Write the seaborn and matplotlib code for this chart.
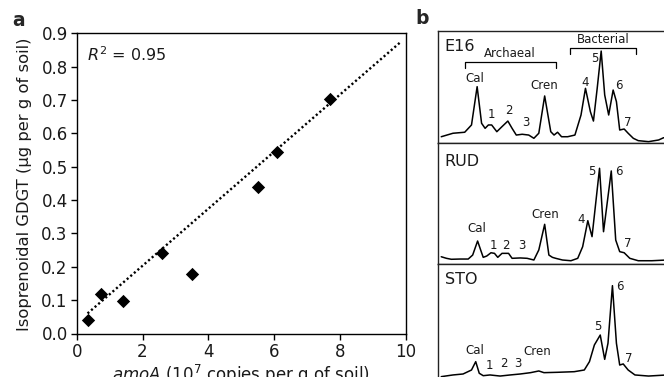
import numpy as np
import pandas as pd
import matplotlib
matplotlib.use("Agg")
import matplotlib.pyplot as plt
import seaborn as sns

sns.set_style("ticks")
plt.rcParams["font.family"] = ["DejaVu Sans"]
plt.rcParams["mathtext.fontset"] = "dejavusans"

# ---------------- Panel a data ----------------
amoa = [0.33, 0.74, 1.42, 2.60, 3.50, 5.50, 6.10, 7.70]
gdgt = [0.040, 0.118, 0.097, 0.240, 0.178, 0.440, 0.545, 0.703]
fit_slope = 0.0855
fit_intercept = 0.032
fit_range = [0.33, 9.82]
r2_text = "0.95"
xticks_a = [0, 2, 4, 6, 8, 10]
yticks_a = [0.0, 0.1, 0.2, 0.3, 0.4, 0.5, 0.6, 0.7, 0.8, 0.9]

# ---------------- Panel b data (retention time, relative intensity) ----------------
e16_rt = [1.6, 6.6, 11.6, 14.5, 16.9, 18.8, 20.3, 21.7, 23.1, 25.3, 27.5, 30.0, 31.8, 33.6,
          36.1, 38.9, 41.1, 43.2, 45.7, 48.3, 49.7, 51.2, 52.9, 55.5, 58.6, 61.2, 63.1, 65.2,
          66.5, 68.1, 69.8, 71.3, 73.0, 74.9, 76.3, 77.7, 79.6, 81.3, 83.5, 85.6, 90.0, 94.3,
          96.4, 97.8]
e16_int = [5.6, 8.7, 9.6, 16.1, 50.3, 17.6, 13.1, 16.1, 16.1, 10.1, 14.6, 19.6, 13.1, 7.1,
           7.8, 7.1, 4.2, 8.7, 42.0, 10.1, 7.1, 9.6, 5.6, 5.6, 7.1, 25.0, 48.8, 27.9,
           19.6, 48.8, 82.1, 42.9, 25.0, 47.3, 36.9, 11.6, 12.5, 8.7, 4.2, 2.1, 1.2, 2.7,
           4.7, 4.5]
rud_rt = [1.6, 3.8, 5.9, 9.5, 13.1, 15.0, 17.1, 18.4, 19.5, 21.0, 22.8, 24.3, 25.7, 27.5,
          30.3, 31.8, 35.3, 38.2, 41.1, 43.2, 45.7, 47.5, 49.0, 50.4, 53.3, 56.9, 59.8, 61.9,
          64.1, 65.9, 69.1, 70.8, 74.1, 76.0, 77.7, 79.6, 82.0, 85.6, 91.4, 97.8]
rud_int = [6.0, 4.7, 3.9, 4.1, 4.1, 7.4, 19.0, 11.6, 5.5, 6.6, 9.3, 8.8, 5.5, 8.8,
           8.8, 4.7, 5.0, 4.7, 3.3, 11.6, 32.8, 7.4, 5.5, 4.7, 3.3, 2.7, 4.7, 14.3,
           35.8, 22.6, 79.1, 26.7, 76.9, 19.8, 10.2, 9.3, 4.7, 2.7, 2.7, 3.3]
sto_rt = [1.6, 6.6, 10.9, 14.5, 16.3, 17.8, 19.5, 22.4, 26.7, 31.0, 35.3, 39.7, 43.2, 45.4,
          51.2, 58.3, 62.6, 64.8, 66.9, 69.4, 71.3, 72.7, 74.6, 76.3, 77.7, 79.2, 81.3, 84.2,
          90.0, 97.8]
sto_int = [6.9, 8.3, 9.1, 12.4, 19.3, 9.7, 7.7, 8.3, 7.4, 8.3, 9.1, 10.2, 11.6, 10.2,
           10.5, 11.0, 12.4, 19.3, 33.1, 41.3, 21.2, 34.5, 82.1, 34.5, 16.5, 17.4, 12.4, 8.3,
           7.4, 8.3]

sample_names = ["E16", "RUD", "STO"]
peak_names = ["Cal", "1", "2", "3", "Cren", "4", "5", "6", "7"]
e16_lab_rt = [15.9, 22.8, 30.3, 37.8, 45.4, 63.1, 66.9, 77.3, 81.0]
e16_lab_y = [57.8, 25.0, 28.6, 18.5, 50.9, 53.8, 75.0, 50.9, 18.5]
rud_lab_rt = [16.7, 23.8, 29.3, 35.8, 46.1, 61.2, 65.9, 77.3, 81.0]
rud_lab_y = [29.5, 14.9, 15.7, 14.9, 40.5, 36.9, 76.3, 76.3, 17.1]
sto_peak_names = ["Cal", "1", "2", "3", "Cren", "5", "6", "7"]
sto_lab_rt = [15.9, 22.1, 28.4, 34.2, 42.5, 68.4, 77.7, 81.6]
sto_lab_y = [28.9, 16.5, 17.4, 17.4, 27.5, 48.2, 81.2, 22.1]

archaeal_range = [11.6, 50.4]
bacterial_range = [56.6, 84.5]

# ---------------- Figure ----------------
W, H = 664, 377
fig = plt.figure(figsize=(W / 100, H / 100), dpi=100)
TXT = "#1a1a1a"

def frac(x0, y0, x1, y1):
    return [x0 / W, 1 - y1 / H, (x1 - x0) / W, (y1 - y0) / H]

# ----- Panel a -----
ax = fig.add_axes(frac(76.7, 33.3, 405.7, 333.5))
df_a = pd.DataFrame({"amoa": amoa, "gdgt": gdgt})
xf = np.array(fit_range)
ax.plot(xf, fit_intercept + fit_slope * xf, color="black", lw=1.7,
        linestyle=(0, (0.9, 1.1)), zorder=2)
sns.scatterplot(data=df_a, x="amoa", y="gdgt", marker="D", s=46, color="black",
                linewidth=0, ax=ax, zorder=3)
ax.set_xlim(0, 10)
ax.set_ylim(0, 0.9)
ax.set_xticks(xticks_a)
ax.set_yticks(yticks_a)
ax.set_yticklabels([f"{v:.1f}" for v in yticks_a])
ax.tick_params(axis="both", labelsize=12, length=4, width=1, pad=2.5, color="black",
               labelcolor=TXT)
for sp in ax.spines.values():
    sp.set_linewidth(1.0)
    sp.set_color("black")
ax.set_xlabel(r"$\it{amoA}$ (10$^{7}$ copies per g of soil)", fontsize=12, color=TXT)
ax.set_ylabel("Isoprenoidal GDGT (µg per g of soil)", fontsize=11.8, color=TXT)
ax.xaxis.set_label_coords(0.4985, -0.097)
ax.yaxis.set_label_coords(-0.137, 0.497)
ax.text(0.30, 0.836, r"$\it{R}^{2}$ = " + r2_text, fontsize=11.5, ha="left", va="center",
        color=TXT)

fig.text(12 / W, 1 - 21 / H, "a", fontsize=13.5, fontweight="bold", ha="left", va="center")
fig.text(415 / W, 1 - 19 / H, "b", fontsize=13.5, fontweight="bold", ha="left", va="center")

# ----- Panel b -----
panels = [
    ("E16", e16_rt, e16_int, peak_names, e16_lab_rt, e16_lab_y, (31, 143)),
    ("RUD", rud_rt, rud_int, peak_names, rud_lab_rt, rud_lab_y, (143, 264)),
    ("STO", sto_rt, sto_int, sto_peak_names, sto_lab_rt, sto_lab_y, (264, 385)),
]
for i, (name, rt, inten, pnames, lrt, ly, (ytop, ybot)) in enumerate(panels):
    bx = fig.add_axes(frac(437.5, ytop, 672, ybot))
    dfp = pd.DataFrame({"rt": rt, "int": inten})
    sns.lineplot(data=dfp, x="rt", y="int", sort=False, color="black", lw=1.1, ax=bx)
    bx.set_xlim(0, 100)
    bx.set_ylim(0, 100)
    bx.set_xticks([])
    bx.set_yticks([])
    bx.set_xlabel("")
    bx.set_ylabel("")
    for sp in bx.spines.values():
        sp.set_linewidth(1.0)
        sp.set_color("#222222")
    bx.text(3.0, 93 if i != 1 else 91, name, fontsize=11.5, ha="left", va="top", color=TXT)
    for pn, x, y in zip(pnames, lrt, ly):
        bx.text(x, y, pn, fontsize=8.5, ha="center", va="center", color=TXT)
    if i == 0:
        a0, a1 = archaeal_range
        bx.plot([a0, a0, a1, a1], [66.7, 72.1, 72.1, 66.7], color="black", lw=0.9)
        bx.text((a0 + a1) / 2, 79.5, "Archaeal", fontsize=8.5, ha="center", va="center",
                color=TXT)
        b0, b1 = bacterial_range
        bx.plot([b0, b0, b1, b1], [79.2, 85.1, 85.1, 79.2], color="black", lw=0.9)
        bx.text((b0 + b1) / 2, 92.5, "Bacterial", fontsize=8.5, ha="center", va="center",
                color=TXT)

fig.savefig("out.png", dpi=100)
